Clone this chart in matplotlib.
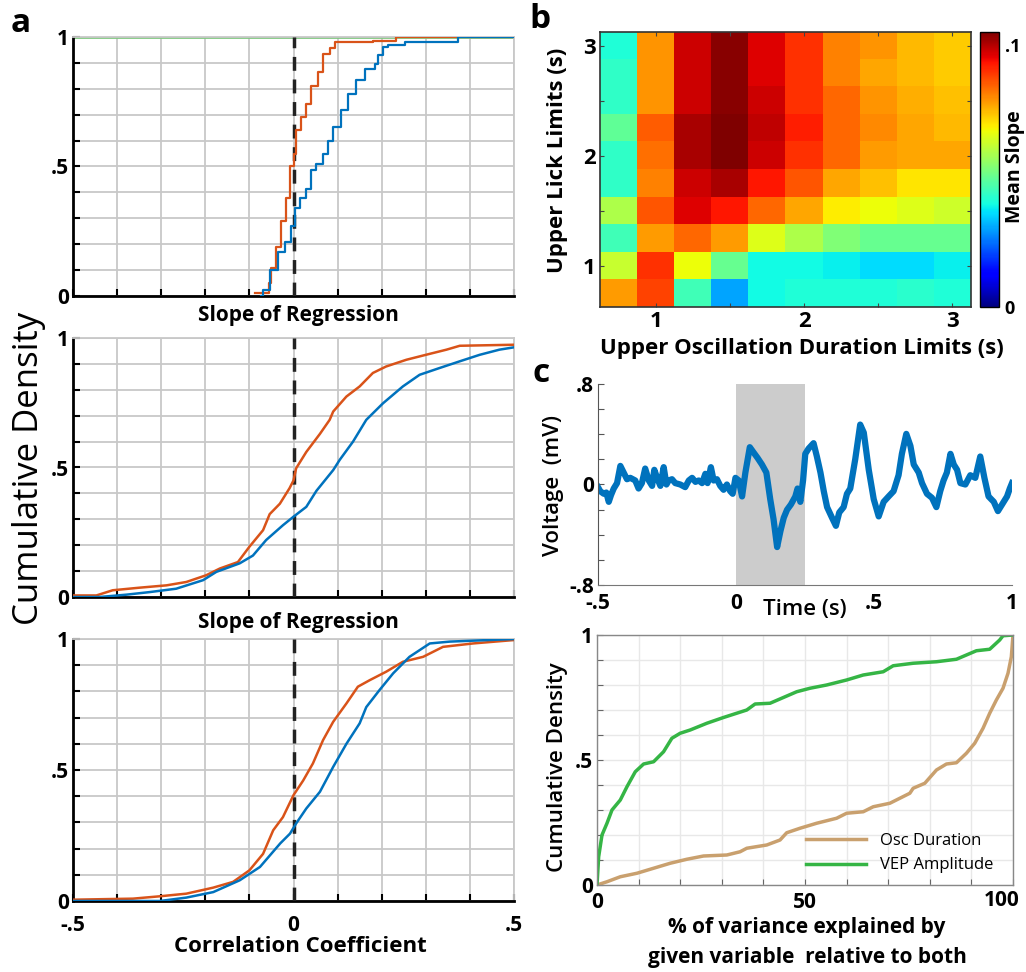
import numpy as np
import matplotlib
matplotlib.use("Agg")
import matplotlib.pyplot as plt

plt.rcParams['font.family'] = ['Open Sans', 'DejaVu Sans']

BLUE = '#0072BD'
ORANGE = '#D95319'
GRID = '#c8c8c8'

# ---------------- panel a data (empirical CDFs) ----------------
a1_blue_x = [-0.073, -0.069, -0.054, -0.035, -0.020, -0.005, 0.003, 0.014, 0.029, 0.040, 0.052,
             0.067, 0.078, 0.090, 0.108, 0.124, 0.142, 0.161, 0.184, 0.192, 0.203, 0.214, 0.252, 0.373, 0.5]
a1_blue_y = [0.0, 0.023, 0.10, 0.17, 0.21, 0.27, 0.34, 0.38, 0.415, 0.486, 0.51,
             0.55, 0.60, 0.653, 0.717, 0.78, 0.833, 0.878, 0.897, 0.93, 0.96, 0.97, 0.981, 1.0, 1.0]
a1_orange_x = [-0.088, -0.056, -0.050, -0.039, -0.028, -0.016, -0.009, 0.0, 0.006, 0.018, 0.029,
               0.040, 0.056, 0.067, 0.082, 0.093, 0.180, 0.233, 0.5]
a1_orange_y = [0.013, 0.05, 0.11, 0.19, 0.29, 0.38, 0.5, 0.55, 0.64, 0.69, 0.74,
               0.81, 0.865, 0.936, 0.959, 0.98, 0.985, 1.0, 1.0]

a2_orange_x = [-0.5, -0.447, -0.41, -0.349, -0.288, -0.243, -0.198, -0.167, -0.126, -0.10, -0.069,
               -0.054, -0.031, -0.009, 0.0, 0.006, 0.029, 0.06, 0.082, 0.09, 0.12, 0.15, 0.18,
               0.21, 0.256, 0.30, 0.347, 0.377, 0.5]
a2_orange_y = [0.006, 0.006, 0.026, 0.036, 0.045, 0.058, 0.084, 0.11, 0.135, 0.194, 0.258,
               0.32, 0.36, 0.42, 0.45, 0.497, 0.56, 0.63, 0.684, 0.716, 0.774, 0.813, 0.865,
               0.89, 0.916, 0.935, 0.955, 0.97, 0.974]
a2_blue_x = [-0.5, -0.44, -0.379, -0.326, -0.266, -0.205, -0.175, -0.122, -0.092, -0.062, -0.024,
             0.0, 0.029, 0.052, 0.09, 0.105, 0.135, 0.165, 0.203, 0.248, 0.286, 0.331, 0.377,
             0.422, 0.467, 0.5]
a2_blue_y = [0.0, 0.0, 0.009, 0.019, 0.032, 0.065, 0.097, 0.13, 0.16, 0.22, 0.277,
             0.31, 0.348, 0.41, 0.49, 0.53, 0.60, 0.684, 0.748, 0.813, 0.858, 0.884, 0.91,
             0.935, 0.955, 0.964]

a3_orange_x = [-0.5, -0.364, -0.303, -0.243, -0.182, -0.137, -0.10, -0.069, -0.046, -0.024, 0.0,
               0.022, 0.044, 0.067, 0.09, 0.12, 0.146, 0.173, 0.21, 0.248, 0.294, 0.339, 0.407, 0.5]
a3_orange_y = [0.005, 0.009, 0.018, 0.028, 0.051, 0.073, 0.117, 0.18, 0.27, 0.32, 0.404,
               0.46, 0.525, 0.614, 0.684, 0.754, 0.818, 0.843, 0.875, 0.913, 0.932, 0.97, 0.983, 0.996]
a3_blue_x = [-0.5, -0.303, -0.243, -0.182, -0.122, -0.076, -0.03, -0.008, 0.006, 0.029, 0.06,
             0.09, 0.12, 0.15, 0.165, 0.195, 0.226, 0.263, 0.309, 0.354, 0.5]
a3_blue_y = [0.0, 0.0, 0.013, 0.034, 0.079, 0.13, 0.22, 0.257, 0.296, 0.353, 0.417,
             0.512, 0.60, 0.678, 0.74, 0.805, 0.869, 0.932, 0.983, 0.99, 1.0]

# ---------------- panel b data ----------------
osc_limits = [0.75, 1.0, 1.25, 1.5, 1.75, 2.0, 2.25, 2.5, 2.75, 3.0]
lick_limits_top_down = [3.0, 2.75, 2.5, 2.25, 2.0, 1.75, 1.5, 1.25, 1.0, 0.75]
mean_slope = [
    [0.041, 0.079, 0.098, 0.104, 0.096, 0.090, 0.081, 0.079, 0.075, 0.073],
    [0.043, 0.079, 0.098, 0.104, 0.096, 0.090, 0.081, 0.077, 0.075, 0.073],
    [0.043, 0.079, 0.098, 0.104, 0.098, 0.090, 0.084, 0.079, 0.076, 0.074],
    [0.049, 0.085, 0.101, 0.105, 0.099, 0.092, 0.084, 0.080, 0.077, 0.075],
    [0.043, 0.083, 0.101, 0.105, 0.098, 0.090, 0.084, 0.078, 0.077, 0.077],
    [0.043, 0.081, 0.098, 0.101, 0.093, 0.086, 0.077, 0.074, 0.070, 0.070],
    [0.059, 0.086, 0.096, 0.093, 0.084, 0.077, 0.069, 0.067, 0.065, 0.063],
    [0.045, 0.078, 0.084, 0.078, 0.065, 0.059, 0.053, 0.050, 0.050, 0.050],
    [0.062, 0.090, 0.067, 0.050, 0.039, 0.039, 0.038, 0.036, 0.036, 0.038],
    [0.078, 0.088, 0.045, 0.030, 0.039, 0.041, 0.041, 0.041, 0.042, 0.041],
]
slope_vmax = 0.105

# ---------------- panel c data ----------------
t_s = [-0.500, -0.492, -0.479, -0.470, -0.461, -0.453, -0.443, -0.431, -0.419, -0.407, -0.395,
       -0.383, -0.365, -0.353, -0.341, -0.329, -0.316, -0.304, -0.296, -0.286, -0.274, -0.262,
       -0.252, -0.244, -0.232, -0.220, -0.202, -0.184, -0.171, -0.159, -0.147, -0.135, -0.123,
       -0.111, -0.103, -0.091, -0.081, -0.069, -0.057, -0.045, -0.033, -0.021, -0.012, -0.002,
       0.010, 0.022, 0.034, 0.050, 0.064, 0.078, 0.094, 0.110, 0.124, 0.136, 0.149, 0.161,
       0.173, 0.185, 0.199, 0.215, 0.223, 0.233, 0.243, 0.251, 0.263, 0.281, 0.293, 0.306,
       0.318, 0.330, 0.348, 0.362, 0.374, 0.390, 0.402, 0.414, 0.432, 0.450, 0.463, 0.481,
       0.499, 0.517, 0.535, 0.553, 0.571, 0.589, 0.601, 0.617, 0.632, 0.644, 0.662, 0.674,
       0.692, 0.710, 0.726, 0.740, 0.752, 0.764, 0.777, 0.789, 0.801, 0.813, 0.831, 0.849,
       0.867, 0.885, 0.900, 0.915, 0.934, 0.949, 0.964, 0.982, 0.992, 1.000]
voltage_mv = [-0.021, -0.053, -0.074, -0.064, -0.138, -0.085, -0.032, 0.011, 0.148, 0.095, 0.042,
              0.053, 0.032, -0.032, 0.011, 0.127, 0.032, -0.011, 0.117, 0.053, -0.011, 0.138,
              0.0, 0.032, 0.042, 0.011, 0.0, -0.021, 0.032, 0.053, 0.021, 0.032, 0.011,
              0.085, 0.011, 0.138, 0.032, 0.042, -0.011, -0.042, 0.0, -0.053, -0.074, 0.053,
              0.032, -0.095, 0.095, 0.297, 0.254, 0.212, 0.159, 0.095, -0.117, -0.276, -0.498, -0.371,
              -0.265, -0.201, -0.159, -0.095, -0.032, -0.138, 0.032, 0.244, 0.286, 0.329, 0.223, 0.095,
              -0.053, -0.180, -0.265, -0.329, -0.223, -0.180, -0.074, -0.032, 0.201, 0.477, 0.413, 0.117,
              -0.117, -0.254, -0.138, -0.095, -0.053, 0.074, 0.244, 0.403, 0.307, 0.159, 0.095, 0.011,
              -0.074, -0.106, -0.180, -0.053, 0.032, 0.095, 0.244, 0.159, 0.117, 0.011, 0.0, 0.074,
              0.053, 0.223, 0.053, -0.095, -0.138, -0.212, -0.159, -0.095, -0.032, 0.011]
stim_window = (0.0, 0.25)

vep_x = [0, 0.4, 1.2, 2.4, 3.6, 5.6, 7.2, 9.2, 11.2, 13.6, 16, 18, 20, 22.4, 26.4, 30.4, 36, 38,
         41.6, 44.8, 48, 51.2, 55.2, 60, 64, 68.8, 71.2, 76, 81.6, 86.4, 88.8, 91.2, 94.4, 96.8,
         97.6, 100]
vep_y = [0, 0.113, 0.2, 0.247, 0.3, 0.34, 0.393, 0.453, 0.484, 0.493, 0.533, 0.587, 0.607, 0.62,
         0.647, 0.67, 0.70, 0.724, 0.727, 0.75, 0.773, 0.787, 0.80, 0.82, 0.84, 0.853, 0.877,
         0.887, 0.893, 0.903, 0.92, 0.937, 0.943, 0.98, 0.997, 1.0]
osc_x = [0, 2.4, 5.6, 9.6, 13.6, 17.6, 21.6, 25.6, 31.2, 34.4, 36, 40.8, 44, 45.6, 48.8, 52.8,
         57.6, 60, 64, 66.4, 70.4, 72.8, 75.2, 76, 78.8, 81.6, 84, 86.4, 88.8, 90.8, 92.8, 94.4,
         96, 97.6, 98.8, 99.6, 100]
osc_y = [0, 0.013, 0.033, 0.047, 0.067, 0.087, 0.103, 0.116, 0.12, 0.133, 0.147, 0.16, 0.18,
         0.209, 0.227, 0.247, 0.267, 0.287, 0.293, 0.313, 0.327, 0.347, 0.367, 0.387, 0.407,
         0.46, 0.484, 0.489, 0.527, 0.567, 0.627, 0.687, 0.74, 0.787, 0.847, 0.913, 1.0]

# ---------------- figure ----------------
W, H = 1026, 972
fig = plt.figure(figsize=(W / 100, H / 100), dpi=100)


def frac(l, t, r, b):
    return [l / W, 1 - b / H, (r - l) / W, (b - t) / H]


def style_a(ax, show_x):
    ax.set_xlim(-0.5, 0.5)
    ax.set_ylim(0, 1)
    xt = np.round(np.arange(-0.5, 0.501, 0.1), 2)
    yt = np.round(np.arange(0, 1.001, 0.1), 2)
    ax.set_xticks(xt)
    ax.set_yticks(yt)
    ax.grid(True, color=GRID, lw=1.3)
    ax.set_axisbelow(True)
    xl = ['' for _ in xt]
    if show_x:
        xl[0], xl[5], xl[10] = '-.5', '0', '.5'
    yl = ['' for _ in yt]
    yl[0], yl[5], yl[10] = '0', '.5', '1'
    ax.set_xticklabels(xl, fontsize=15, fontweight='bold')
    ax.set_yticklabels(yl, fontsize=15, fontweight='bold')
    ax.tick_params(direction='in', length=5, width=1.5, color='black', pad=3)
    ax.tick_params(axis='x', pad=10)
    for s in ['left', 'bottom']:
        ax.spines[s].set_linewidth(2)
        ax.spines[s].set_color('black')
    for s in ['top', 'right']:
        ax.spines[s].set_color(GRID)
        ax.spines[s].set_linewidth(1.3)
    ax.axvline(0, color='#222222', lw=2.5, ls=(0, (4, 2.5)), zorder=3)


ax1 = fig.add_axes(frac(73, 37, 514, 296))
style_a(ax1, False)
ax1.axhline(1.0, color='#7FC97F', lw=2, zorder=2)
ax1.step(a1_orange_x, a1_orange_y, where='post', color=ORANGE, lw=1.6, zorder=4)
ax1.step(a1_blue_x, a1_blue_y, where='post', color=BLUE, lw=1.6, zorder=4)

ax2 = fig.add_axes(frac(73, 338, 514, 597))
style_a(ax2, False)
ax2.plot(a2_orange_x, a2_orange_y, color=ORANGE, lw=1.8, zorder=4)
ax2.plot(a2_blue_x, a2_blue_y, color=BLUE, lw=1.8, zorder=4)

ax3 = fig.add_axes(frac(73, 639, 514, 901))
style_a(ax3, True)
ax3.plot(a3_orange_x, a3_orange_y, color=ORANGE, lw=1.8, zorder=4)
ax3.plot(a3_blue_x, a3_blue_y, color=BLUE, lw=1.8, zorder=4)

lab_kw = dict(fontsize=15, fontweight='bold', ha='center', va='center')
fig.text(298 / W, 1 - 316 / H, 'Slope of Regression', **lab_kw)
fig.text(298 / W, 1 - 622 / H, 'Slope of Regression', **lab_kw)
fig.text(300 / W, 1 - 946 / H, 'Correlation Coefficient', fontsize=16, fontweight='bold',
         ha='center', va='center')
fig.text(29 / W, 1 - 468 / H, 'Cumulative Density', fontsize=25, rotation=90,
         ha='center', va='center')

# panel letters
fig.text(21 / W, 1 - 24 / H, 'a', fontsize=24, fontweight='bold', ha='center', va='center')
fig.text(540 / W, 1 - 20 / H, 'b', fontsize=24, fontweight='bold', ha='center', va='center')
fig.text(541 / W, 1 - 373 / H, 'c', fontsize=24, fontweight='bold', ha='center', va='center')

# ---------------- panel b ----------------
axb = fig.add_axes(frac(600, 32, 971, 307))
half = 0.125
ext = [osc_limits[0] - half, osc_limits[-1] + half,
       lick_limits_top_down[-1] - half, lick_limits_top_down[0] + half]
im = axb.imshow(np.array(mean_slope), cmap='jet', vmin=0, vmax=slope_vmax, extent=ext,
                origin='upper', aspect='auto', interpolation='nearest')
axb.set_xticks([1, 2, 3])
axb.set_yticks([1, 2, 3])
axb.set_xticklabels(['1', '2', '3'], fontsize=16, fontweight='bold')
axb.set_yticklabels(['1', '2', '3'], fontsize=16, fontweight='bold')
axb.set_xticks(np.arange(1.0, 3.01, 0.5), minor=True)
axb.set_yticks(np.arange(1.0, 3.01, 0.5), minor=True)
axb.tick_params(which='both', direction='in', length=3, width=0.8, color='#444444',
                top=True, right=True, pad=3)
for s in axb.spines.values():
    s.set_linewidth(1.2)
    s.set_color('#333333')
fig.text(557 / W, 1 - 160 / H, 'Upper Lick Limits (s)', fontsize=16, fontweight='bold',
         rotation=90, ha='center', va='center')
fig.text(802 / W, 1 - 348 / H, 'Upper Oscillation Duration Limits (s)', fontsize=16,
         fontweight='bold', ha='center', va='center')

cax = fig.add_axes(frac(980, 32, 999, 307))
cb = fig.colorbar(im, cax=cax, ticks=[0, 0.1])
cb.ax.set_yticklabels(['0', '.1'], fontsize=13, fontweight='bold')
cb.ax.tick_params(length=0, pad=4)
cb.outline.set_linewidth(1.0)
fig.text(1015 / W, 1 - 167 / H, 'Mean Slope', fontsize=14, fontweight='bold', rotation=90,
         ha='center', va='center')

# ---------------- panel c: voltage trace ----------------
axv = fig.add_axes(frac(598, 384, 1012, 585))
axv.axvspan(stim_window[0], stim_window[1], color='#cccccc', lw=0, zorder=0)
axv.plot(t_s, voltage_mv, color=BLUE, lw=4.5, solid_joinstyle='round', zorder=2)
axv.set_xlim(-0.5, 1.0)
axv.set_ylim(-0.8, 0.8)
axv.set_xticks([-0.5, 0, 0.5, 1.0])
axv.set_xticklabels(['-.5', '0', '.5', '1'], fontsize=15, fontweight='bold')
yt = np.round(np.arange(-0.8, 0.801, 0.2), 2)
axv.set_yticks(yt)
ylv = ['' for _ in yt]
ylv[0], ylv[4], ylv[8] = '-.8', '0', '.8'
axv.set_yticklabels(ylv, fontsize=15, fontweight='bold')
axv.tick_params(axis='y', direction='in', length=4, width=0.8, color='#555555', pad=3)
axv.tick_params(axis='x', length=0, pad=6)
axv.spines['top'].set_visible(False)
axv.spines['right'].set_visible(False)
axv.spines['left'].set_color('#555555')
axv.spines['bottom'].set_color('#777777')
axv.text(0.5, -0.12, 'Time (s)', transform=axv.transAxes, fontsize=16, fontweight='semibold',
         ha='center', va='center')
fig.text(553 / W, 1 - 485 / H, 'Voltage  (mV)', fontsize=16, fontweight='semibold',
         rotation=90, ha='center', va='center')

# ---------------- panel c: variance CDF ----------------
axc = fig.add_axes(frac(597, 635, 1013, 885))
axc.plot(osc_x, osc_y, color='#C9A06E', lw=2.5, label='Osc Duration')
axc.plot(vep_x, vep_y, color='#35B545', lw=2.5, label='VEP Amplitude')
axc.set_xlim(0, 100)
axc.set_ylim(0, 1)
xt = np.arange(0, 101, 10)
yt = np.round(np.arange(0, 1.001, 0.1), 2)
axc.set_xticks(xt)
axc.set_yticks(yt)
xl = ['' for _ in xt]
xl[0], xl[5] = '0', '50'
yl = ['' for _ in yt]
yl[0], yl[5], yl[10] = '0', '.5', '1'
axc.set_xticklabels(xl, fontsize=15, fontweight='bold')
axc.set_yticklabels(yl, fontsize=15, fontweight='bold')
axc.grid(True, color='#e8e8e8', lw=1.0)
axc.set_axisbelow(True)
axc.tick_params(direction='in', length=4, width=0.8, color='#666666', pad=3)
axc.tick_params(axis='x', pad=5)
for s in axc.spines.values():
    s.set_color('#888888')
    s.set_linewidth(1.0)
# last x label, placed slightly left of its tick so it stays inside the figure
fig.text(1002 / W, 1 - 890 / H, '100', fontsize=15, fontweight='bold', ha='center', va='top')
leg = axc.legend(loc='lower right', frameon=False, fontsize=12, handlelength=3.6,
                 bbox_to_anchor=(0.98, 0.0), borderaxespad=0.3, labelspacing=0.5)
fig.text(558 / W, 1 - 767 / H, 'Cumulative Density', fontsize=16, fontweight='semibold',
         rotation=90, ha='center', va='center')
fig.text(807 / W, 1 - 927 / H, '% of variance explained by', fontsize=15, fontweight='bold',
         ha='center', va='center')
fig.text(807 / W, 1 - 957 / H, 'given variable  relative to both', fontsize=15,
         fontweight='bold', ha='center', va='center')

fig.savefig('out.png', dpi=100)
